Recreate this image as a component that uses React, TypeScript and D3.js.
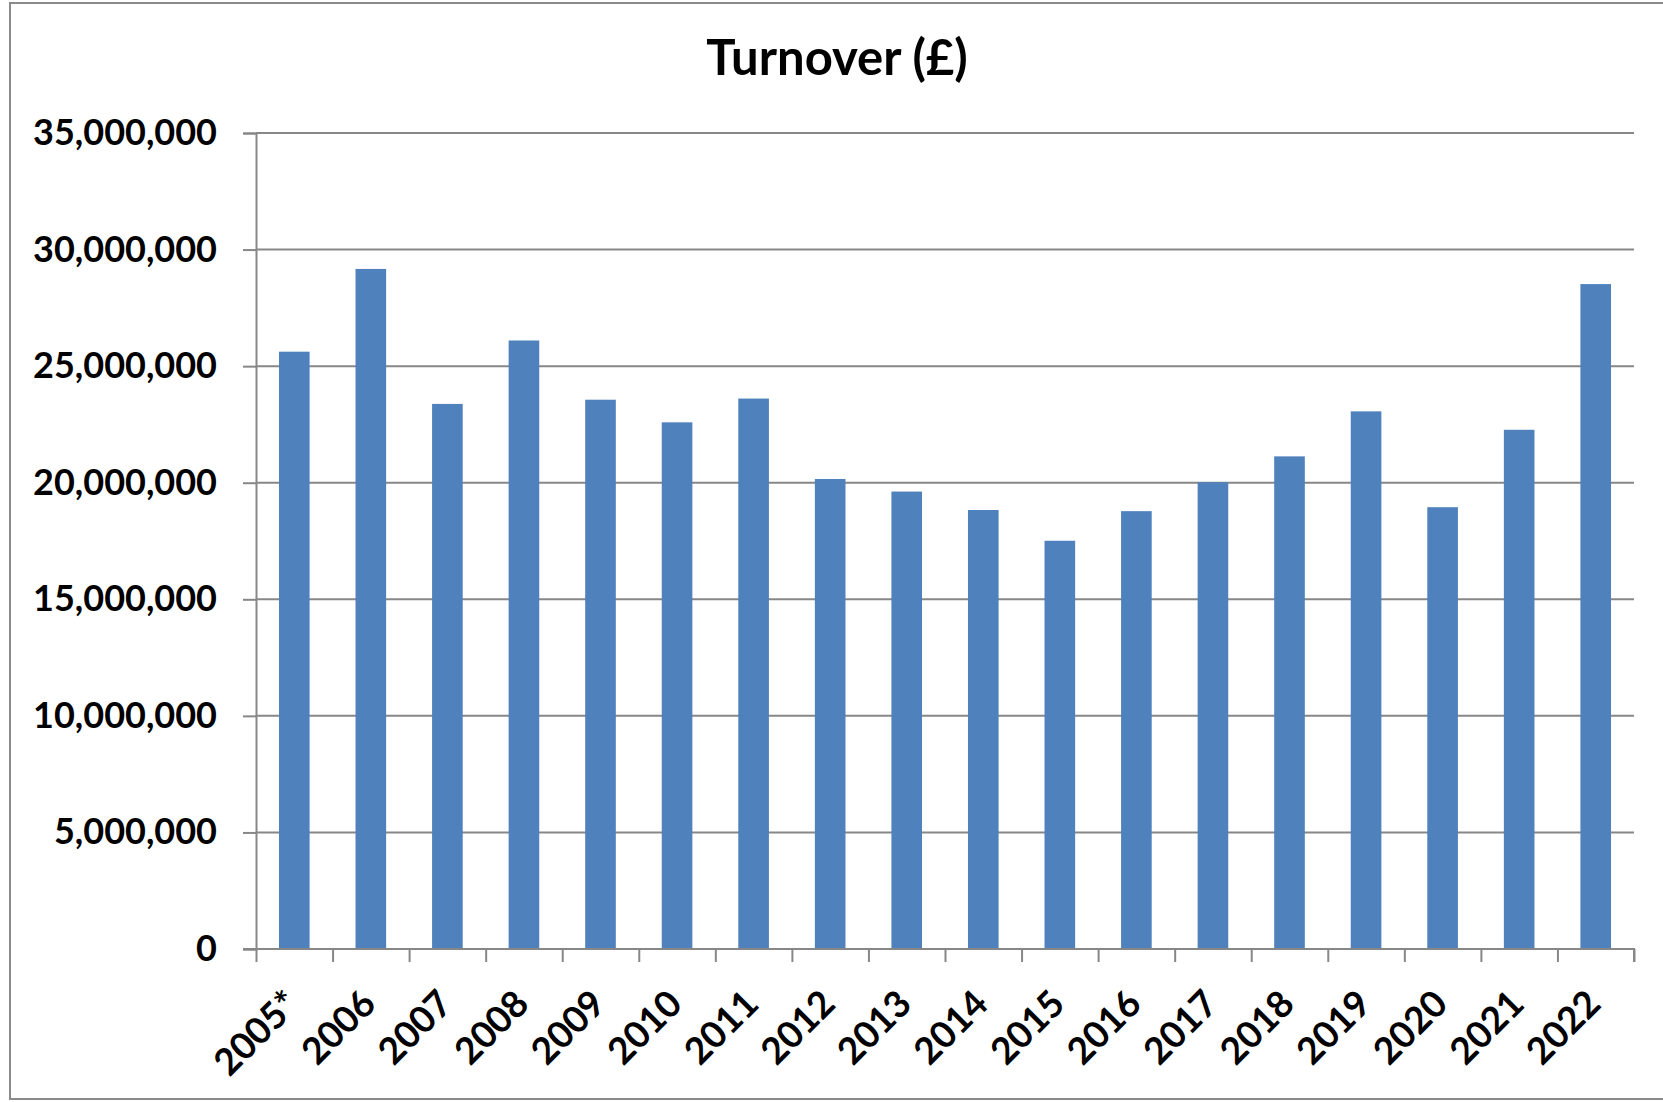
import React, { useRef, useEffect } from 'react';
import * as d3 from 'd3';

// Turnover per year
const years = ['2005*', '2006', '2007', '2008', '2009', '2010', '2011', '2012', '2013',
  '2014', '2015', '2016', '2017', '2018', '2019', '2020', '2021', '2022'];
const turnover = [25620000, 29170000, 23380000, 26100000, 23560000, 22590000, 23610000, 20160000, 19620000,
  18830000, 17510000, 18780000, 20020000, 21130000, 23060000, 18950000, 22270000, 28520000];
const yTicks = [0, 5000000, 10000000, 15000000, 20000000, 25000000, 30000000, 35000000];

const title = 'Turnover (£)';

const App: React.FC = () => {
  const svgRef = useRef<SVGSVGElement>(null);

  useEffect(() => {
    if (!svgRef.current) return;
    const root = d3.select(svgRef.current);
    root.selectAll('*').remove();

    const W = 1663;
    const font = 'Lato, "Open Sans", "DejaVu Sans", sans-serif';
    const grey = '#878787';

    // chart border (right edge is cut off in the original)
    root.append('rect')
      .attr('x', 10).attr('y', 3)
      .attr('width', W + 20).attr('height', 1096)
      .attr('fill', '#fff')
      .attr('stroke', '#8a8a8a')
      .attr('stroke-width', 2);

    root.append('text')
      .attr('x', 837).attr('y', 75)
      .attr('text-anchor', 'middle')
      .style('font-family', font)
      .style('font-weight', 700)
      .style('font-size', '49px')
      .attr('fill', '#000')
      .text(title);

    const left = 256, right = 1634, top = 133, bottom = 949;

    const y = d3.scaleLinear().domain([0, 35000000]).range([bottom, top]);
    const x = d3.scaleBand<string>()
      .domain(years)
      .range([left, right])
      .paddingInner(0.6)
      .paddingOuter(0.3);
    const xb = d3.scaleLinear().domain([0, years.length]).range([left, right]);

    // gridlines
    root.append('g')
      .selectAll('line')
      .data(yTicks.slice(1))
      .enter()
      .append('line')
      .attr('x1', left).attr('x2', right)
      .attr('y1', d => y(d)).attr('y2', d => y(d))
      .attr('stroke', grey)
      .attr('stroke-width', 2);

    // bars
    root.append('g')
      .selectAll('rect')
      .data(turnover)
      .enter()
      .append('rect')
      .attr('x', (d, i) => x(years[i]) || 0)
      .attr('y', d => y(d))
      .attr('width', x.bandwidth())
      .attr('height', d => bottom - y(d))
      .attr('fill', '#4F81BD');

    // y axis
    const yAxis = root.append('g')
      .attr('transform', `translate(${left},0)`)
      .call(d3.axisLeft(y).tickValues(yTicks).tickSize(13).tickPadding(26).tickFormat(d3.format(',')));
    yAxis.select('.domain').attr('stroke', grey).attr('stroke-width', 2);
    yAxis.selectAll('.tick line').attr('stroke', grey).attr('stroke-width', 2);
    yAxis.selectAll('.tick text')
      .attr('fill', '#000')
      .style('font-family', font)
      .style('font-weight', 700)
      .style('font-size', '36px');

    // x axis, ticks between categories
    const xAxis = root.append('g')
      .attr('transform', `translate(0,${bottom})`)
      .call(d3.axisBottom(xb).tickValues(d3.range(years.length + 1)).tickSize(13).tickFormat(() => ''));
    xAxis.select('.domain').attr('stroke', grey).attr('stroke-width', 2)
      .attr('d', `M${left - 13},0H${right}V13`);
    xAxis.selectAll('.tick line').attr('stroke', grey).attr('stroke-width', 2);

    // rotated category labels
    root.append('g')
      .selectAll('text')
      .data(years)
      .enter()
      .append('text')
      .attr('transform', d => {
        const cx = (x(d) || 0) + x.bandwidth() / 2 + 7;
        return `translate(${cx},${bottom + 57}) rotate(-45)`;
      })
      .attr('text-anchor', 'end')
      .style('font-family', font)
      .style('font-weight', 700)
      .style('font-size', '37px')
      .attr('fill', '#000')
      .text(d => d);
  }, []);

  return (
    <svg
      ref={svgRef}
      width={1663}
      height={1102}
      style={{ position: 'absolute', left: 0, top: 0, display: 'block', background: '#fff' }}
    />
  );
};

export default App;
